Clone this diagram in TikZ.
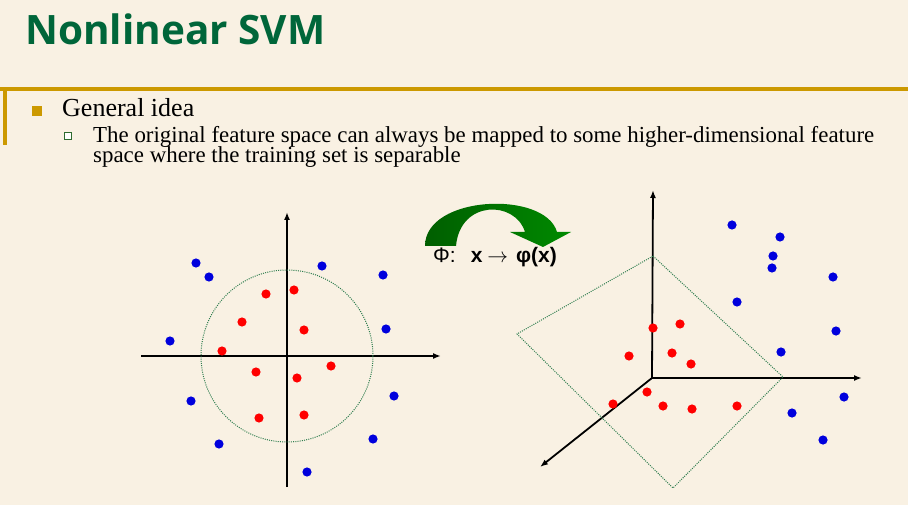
\documentclass[tikz,border=0pt]{standalone}
\usepackage{fontspec}
\setmainfont{Liberation Serif}
\newfontfamily\titlefont{Open Sans}
\newfontfamily\labelfont{Liberation Sans}
\usepackage{xcolor}
\usepackage{tikz}
\usetikzlibrary{arrows.meta,positioning}

\definecolor{bgcream}{HTML}{F9F1E3}
\definecolor{titlegreen}{HTML}{00663A}
\definecolor{rulegold}{HTML}{CC9900}
\definecolor{boxgreen}{HTML}{2F6B2F}
\definecolor{dotred}{HTML}{FF0000}
\definecolor{dotblue}{HTML}{0000DD}
\definecolor{sepgreen}{HTML}{2E7D4F}
\definecolor{arrowdark}{HTML}{005E00}
\definecolor{arrowlight}{HTML}{008A00}

\begin{document}
\begin{tikzpicture}[x=1pt, y=-1pt,
    axis/.style={line width=1.8pt, -{Latex[length=8pt,width=6pt]}},
    separator/.style={draw=sepgreen, line width=1pt, dash pattern=on 1pt off 1.2pt},
    reddot/.style={fill=dotred},
    bluedot/.style={fill=dotblue}]
    \useasboundingbox[fill=bgcream] (0,0) rectangle (908,505);

    % title and bullets
    \node[anchor=base west, inner sep=0pt, text=titlegreen, font=\titlefont\bfseries\fontsize{40.5}{46}\selectfont] (title) at (25,45) {Nonlinear SVM};
    \draw[rulegold, line width=4pt] (0,89.5) -- (908,89.5);
    \draw[rulegold, line width=4pt] (5,87.5) -- (5,145);
    \fill[rulegold] (32,106) rectangle (42,116);
    \node[anchor=base west, inner sep=0pt, font=\fontsize{26}{28}\selectfont] (idea) at (62,117) {General idea};
    \draw[boxgreen, fill=white, line width=0.8pt] (64.5,132.5) rectangle (71.5,139.5);
    \node[anchor=base west, inner sep=0pt, font=\fontsize{22.9}{16}\selectfont] (line1) at (93,142.5) {The original feature space can always be mapped to some higher-dimensional feature};
    \node[anchor=base west, inner sep=0pt, font=\fontsize{22.9}{16}\selectfont] (line2) at ([yshift=-20pt]line1.base west) {space where the training set is separable};

    % input space
    \coordinate (o1) at (287,356);
    \coordinate (x1a) at (141,356);
    \coordinate (x1b) at (441,356);
    \coordinate (y1a) at (287,487);
    \coordinate (y1b) at (287,212);
    \draw[axis] (x1a) -- (x1b);
    \draw[axis] (y1a) -- (y1b);
    \draw[separator] (o1) circle[radius=86pt];

    % mapping arrow
    \shade[left color=arrowdark, right color=arrowlight]
        (425,246) .. controls (425,195) and (545,190) .. (557,232)
        -- (571,232) -- (543,247) -- (510,232) -- (525,232)
        .. controls (515,200) and (460,200) .. (456,246) -- cycle;
    \node[anchor=base west, inner sep=0pt, font=\labelfont\fontsize{21}{24}\selectfont] (phi) at (433,263) {Φ:\hspace{15pt}\textbf{x}\hspace{5pt}$\rightarrow$\hspace{8pt}\textbf{φ(x)}};

    % feature space
    \coordinate (o2) at (652,378);
    \coordinate (z2) at (653,190);
    \coordinate (x2) at (862,378);
    \coordinate (y2) at (540,467);
    \draw[axis] (o2) -- (z2);
    \draw[axis] (o2) -- (x2);
    \draw[axis] (o2) -- (y2);
    \coordinate (p1) at (653,256);
    \coordinate (p2) at (783,377);
    \coordinate (p3) at (673,488);
    \coordinate (p4) at (517,334);
    \draw[separator] (p1) -- (p2) -- (p3) -- (p4) -- cycle;

    % points
    \foreach \px/\py in {266/294, 294/290, 242/322, 304/330, 222/351, 256/372, 297/378, 331/366, 259/418, 304/415,
                         653/328, 680/324, 629/356, 672/353, 691/364, 647/392, 613/404, 663/406, 692/409, 737/406}
        \fill[reddot] (\px,\py) circle[radius=4.6pt];
    \foreach \px/\py in {196/263, 209/277, 322/266, 383/275, 170/341, 386/329, 191/401, 394/396, 219/444, 373/439, 307/472,
                         732/225, 780/237, 773/256, 772/268, 833/277, 737/302, 836/331, 781/352, 844/397, 792/413, 823/440}
        \fill[bluedot] (\px,\py) circle[radius=4.6pt];
\end{tikzpicture}
\end{document}
